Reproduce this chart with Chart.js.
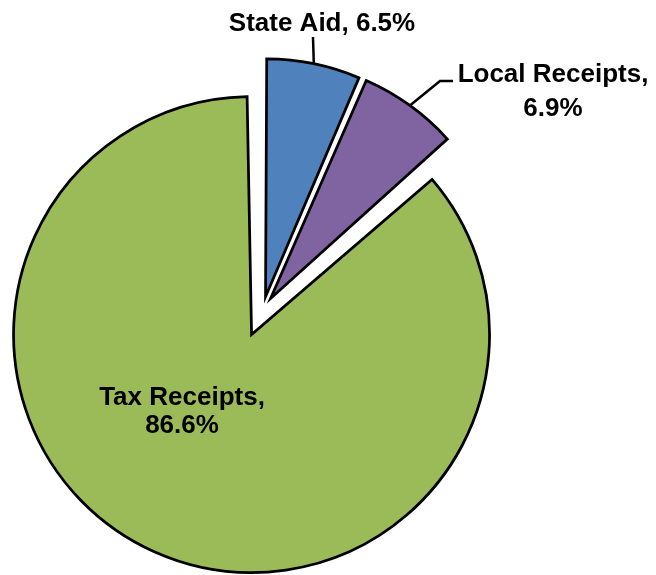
<!DOCTYPE html>
<html lang="en">
<head>
<meta charset="UTF-8">
<title>Revenue Sources</title>
<script src="https://cdn.jsdelivr.net/npm/chart.js"></script>
<style>
  html, body { margin: 0; padding: 0; background: #fff; }
  #wrap { width: 656px; height: 575px; }
</style>
</head>
<body>
<div id="wrap"><canvas id="myChart"></canvas></div>
<script>
// revenue shares, percent of total
const categories = ['State Aid', 'Local Receipts', 'Tax Receipts'];
const shares = [6.5, 6.9, 86.6];

const sliceColors = ['#4F81BD', '#8064A2', '#9BBB59'];
const pieRadius = 238;
// how far each slice is pulled away from the centre (px)
const slicePull = [12.5, 13, 28];

// label placement: centre x, first baseline, line height, wrap after the comma
const labelSpots = [
  { x: 322, y: 31, lh: 34, wrap: false, leader: [[313, 37]] },
  { x: 553, y: 82, lh: 34, wrap: true, leader: [[440, 81], [453, 81]] },
  { x: 182, y: 405, lh: 28, wrap: true, leader: null }
];

// Chart.js moves an arc by offset/4 and grows its radius a little;
// undo the growth so every slice keeps the same radius
const keepRadius = {
  id: 'keepRadius',
  afterDatasetsUpdate(chart) {
    chart.getDatasetMeta(0).data.forEach((arc, i) => {
      const fix = 1 - Math.sin(Math.min(Math.PI, arc.circumference));
      arc.outerRadius = pieRadius - slicePull[i] * fix;
    });
  }
};

const sliceLabels = {
  id: 'sliceLabels',
  afterDatasetsDraw(chart) {
    const ctx = chart.ctx;
    const arcs = chart.getDatasetMeta(0).data;
    ctx.save();
    ctx.strokeStyle = '#000';
    ctx.lineWidth = 2.5;
    ctx.fillStyle = '#000';
    ctx.font = 'bold 26px "Liberation Sans", Arial, sans-serif';
    ctx.textAlign = 'center';
    ctx.textBaseline = 'alphabetic';
    arcs.forEach((arc, i) => {
      const spot = labelSpots[i];
      if (spot.leader) {
        const mid = (arc.startAngle + arc.endAngle) / 2;
        const cx = arc.x + Math.cos(mid) * slicePull[i];
        const cy = arc.y + Math.sin(mid) * slicePull[i];
        ctx.beginPath();
        ctx.moveTo(cx + Math.cos(mid) * pieRadius, cy + Math.sin(mid) * pieRadius);
        spot.leader.forEach(p => ctx.lineTo(p[0], p[1]));
        ctx.stroke();
      }
      const value = shares[i].toFixed(1) + '%';
      const lines = spot.wrap ? [categories[i] + ',', value] : [categories[i] + ', ' + value];
      lines.forEach((t, k) => ctx.fillText(t, spot.x, spot.y + k * spot.lh));
    });
    ctx.restore();
  }
};

const ctx = document.getElementById('myChart').getContext('2d');
const myChart = new Chart(ctx, {
  type: 'pie',
  data: {
    labels: categories,
    datasets: [{
      data: shares,
      backgroundColor: sliceColors,
      borderColor: '#000',
      borderWidth: 2.75,
      borderJoinStyle: 'miter',
      offset: slicePull.map(p => p * 4),
      radius: pieRadius
    }]
  },
  options: {
    responsive: true,
    maintainAspectRatio: false,
    animation: false,
    layout: { padding: { left: 0, right: 130, top: 43, bottom: 0 } },
    plugins: {
      legend: { display: false },
      tooltip: { enabled: false }
    }
  },
  plugins: [keepRadius, sliceLabels]
});
</script>
</body>
</html>
